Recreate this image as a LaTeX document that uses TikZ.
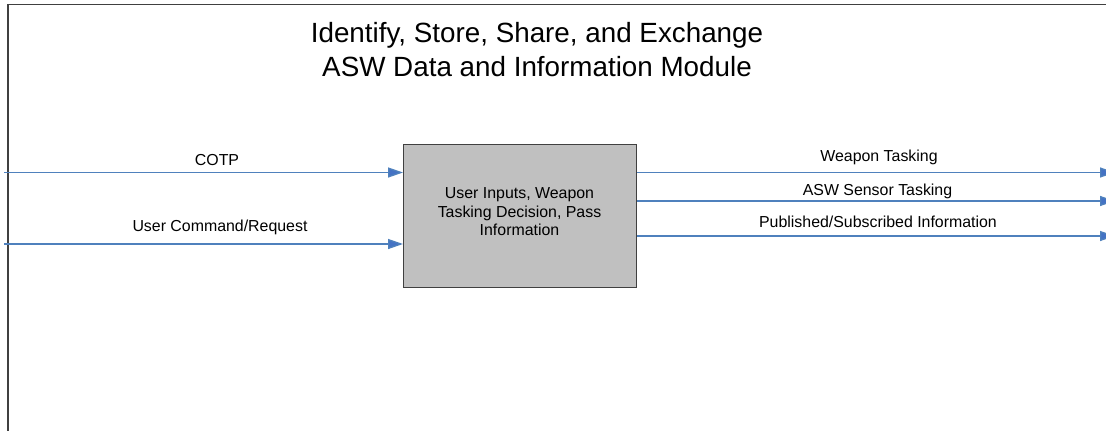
\documentclass[tikz,border=0pt]{standalone}
\usepackage{fontspec}
\setmainfont{Liberation Sans}
\usetikzlibrary{arrows.meta}
\definecolor{flow}{HTML}{4F81BD}
\definecolor{flowhead}{HTML}{4472C4}
\definecolor{frame}{HTML}{404040}
\definecolor{boxfill}{HTML}{C0C0C0}
\tikzset{
  flowarrow/.style={draw=flow, line width=1.3pt, -{Triangle[length=15pt,width=10pt,fill=flowhead]}},
  flowlabel/.style={font=\fontsize{15.9}{18}\selectfont, inner sep=0pt, anchor=center},
  framestyle/.style={draw=frame, line width=1.5pt},
  funcbox/.style={draw=frame, line width=1.2pt, fill=boxfill, minimum width=233pt, minimum height=143pt, anchor=north west, inner sep=0pt},
}
\begin{document}
\begin{tikzpicture}[x=1pt,y=-1pt]
\useasboundingbox (0,0) rectangle (1106,431);
\clip (0,0) rectangle (1106,431);
\fill[white] (0,0) rectangle (1106,431);
% frame
\coordinate (ftl) at (8,4.5);
\coordinate (ftr) at (1110,4.5);
\coordinate (fbl) at (8,435);
\draw[framestyle] (ftr) -- (ftl) -- (fbl);
% title
\node[font=\fontsize{27.8}{34}\selectfont, align=center, inner sep=0pt] (title) at (537,50) {Identify, Store, Share, and Exchange\\ASW Data and Information Module};
% box
\node[funcbox] (box) at (403,144) {};
\node[font=\fontsize{15.9}{18.5}\selectfont, align=center, inner sep=0pt] (boxtext) at (519.5,212) {User Inputs, Weapon\\Tasking Decision, Pass\\Information};
% inputs
\coordinate (in1) at (4,172.5);
\coordinate (in2) at (4,244);
\draw[flowarrow] (in1) -- (in1 -| box.west);
\draw[flowarrow] (in2) -- (in2 -| box.west);
\node[flowlabel] (l1) at (217,160) {COTP};
\node[flowlabel] (l2) at (220,227) {User Command/Request};
% outputs
\coordinate (out1) at (1115,172.5);
\coordinate (out2) at (1115,201);
\coordinate (out3) at (1115,236);
\draw[flowarrow] (out1 -| box.east) -- (out1);
\draw[flowarrow] (out2 -| box.east) -- (out2);
\draw[flowarrow] (out3 -| box.east) -- (out3);
\node[flowlabel] (o1) at (879,157.5) {Weapon Tasking};
\node[flowlabel] (o2) at (877.5,191) {ASW Sensor Tasking};
\node[flowlabel] (o3) at (878,222) {Published/Subscribed Information};
\end{tikzpicture}
\end{document}
